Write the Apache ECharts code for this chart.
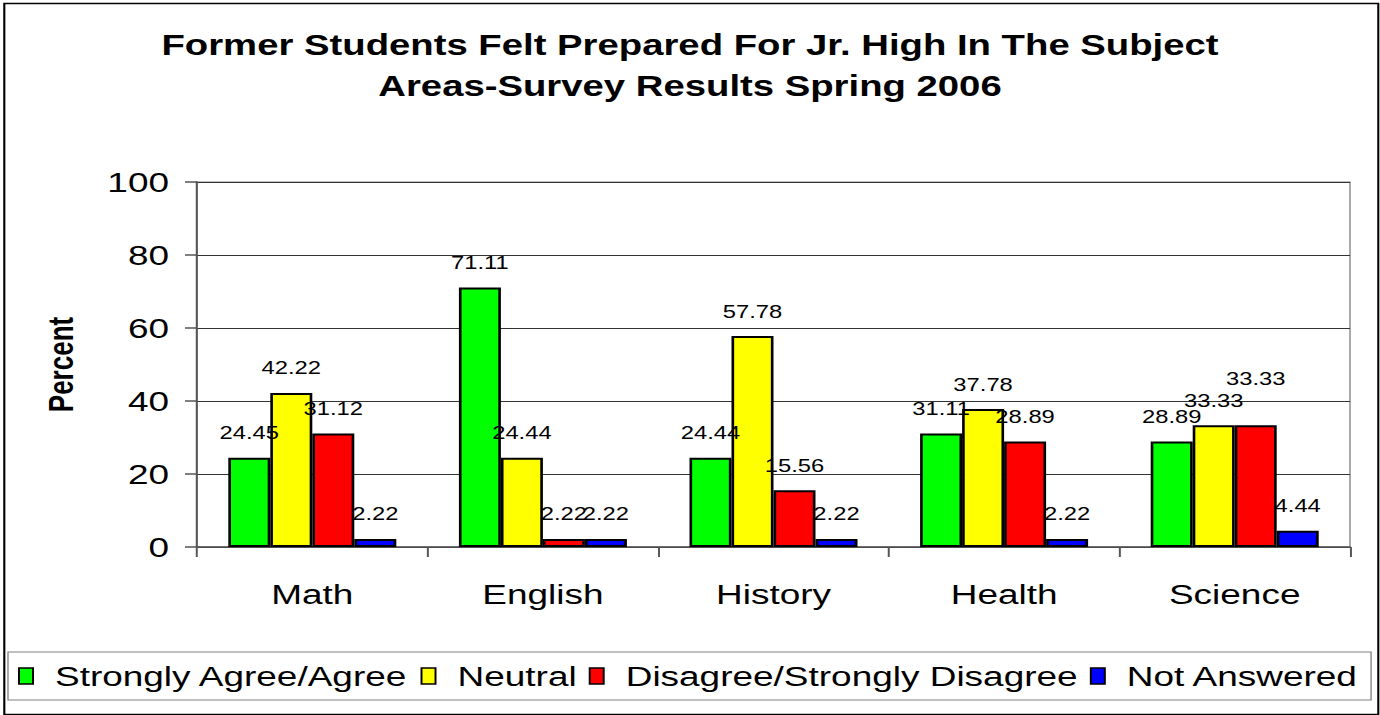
<!DOCTYPE html>
<html>
<head>
<meta charset="utf-8">
<script src="https://cdn.jsdelivr.net/npm/echarts@6/dist/echarts.min.js"></script>
<style>
html,body{margin:0;padding:0;background:#fff;overflow:hidden;}
#wrap{width:1380px;height:715px;overflow:hidden;}
#c{width:1045px;height:715px;transform-origin:0 0;}
</style>
</head>
<body>
<div id="wrap"><div id="c"></div></div>
<script>
const categories = ['Math', 'English', 'History', 'Health', 'Science'];
const seriesNames = ['Strongly Agree/Agree', 'Neutral', 'Disagree/Strongly Disagree', 'Not Answered'];
const agree = [24.45, 71.11, 24.44, 31.11, 28.89];
const neutral = [42.22, 24.44, 57.78, 37.78, 33.33];
const disagree = [31.12, 2.22, 15.56, 28.89, 33.33];
const notAnswered = [2.22, 2.22, 2.22, 2.22, 4.44];
const yTicks = [0, 20, 40, 60, 80, 100];

// The reference's text is horizontally stretched; render narrower and stretch horizontally.
const W = 1045, S = 1380 / W;
document.getElementById('c').style.transform = 'scaleX(' + S + ')';
const sx = v => v / S;

const colors = ['#00FF00', '#FFFF00', '#FF0000', '#0000FF'];
const values = [agree, neutral, disagree, notAnswered];
const font = '"Liberation Sans", Arial, sans-serif';

const chart = echarts.init(document.getElementById('c'), null, {renderer: 'svg', width: W, height: 715});

const series = values.map((arr, i) => ({
  name: seriesNames[i],
  type: 'bar',
  barWidth: sx(42),
  barGap: '0%',
  itemStyle: {color: colors[i], borderColor: '#000', borderWidth: 2},
  label: {
    show: true, position: 'top', distance: 16,
    fontFamily: font, fontSize: 18, color: '#000',
    formatter: p => p.value.toFixed(2)
  },
  data: arr.map((v, j) => {
    if (i === 2 && j === 4) return {value: v, label: {distance: 38}};
    return v;
  })
}));

chart.setOption({
  animation: false,
  backgroundColor: '#fff',
  title: {
    text: 'Former Students Felt Prepared For Jr. High In The Subject\nAreas-Survey Results Spring 2006',
    left: 'center', top: 19,
    textStyle: {fontFamily: font, fontWeight: 'bold', fontSize: 29, lineHeight: 41, color: '#000'}
  },
  graphic: [{
    type: 'rect', left: sx(1), top: 1,
    shape: {x: 0, y: 0, width: sx(1374), height: 711},
    style: {fill: 'none', stroke: '#000', lineWidth: 1.6}, silent: true, z: -1
  }],
  legend: {
    left: sx(8), top: 652,
    itemWidth: sx(14), itemHeight: 16, itemGap: sx(12),
    padding: [10, sx(12), 10, sx(10)],
    borderColor: '#808080', borderWidth: 1,
    icon: 'rect',
    textStyle: {fontFamily: font, fontSize: 28, color: '#000', padding: [0, 0, 0, sx(22) - 5]},
    itemStyle: {borderColor: '#000', borderWidth: 1.5},
    data: seriesNames
  },
  grid: {left: sx(197), right: W - sx(1350), top: 182, bottom: 168, show: true, borderColor: '#808080', borderWidth: 1},
  xAxis: {
    type: 'category', data: categories,
    axisLine: {lineStyle: {color: '#555', width: 1.5}},
    axisTick: {show: true, length: 10, lineStyle: {color: '#555', width: 1.5}},
    axisLabel: {fontFamily: font, fontSize: 28, color: '#000', margin: 33}
  },
  yAxis: {
    type: 'value', min: 0, max: 100, interval: 20,
    name: 'Percent', nameLocation: 'middle', nameGap: sx(119),
    nameTextStyle: {fontFamily: font, fontWeight: 'bold', fontSize: 26, color: '#000'},
    axisLine: {show: true, lineStyle: {color: '#555', width: 1.5}},
    axisTick: {show: true, length: sx(12), lineStyle: {color: '#555', width: 1.5}},
    axisLabel: {fontFamily: font, fontSize: 28, color: '#000', margin: sx(28),
      formatter: v => yTicks.includes(v) ? String(v) : ''},
    splitLine: {lineStyle: {color: '#333', width: 1.2}}
  },
  series: series
});
</script>
</body>
</html>
